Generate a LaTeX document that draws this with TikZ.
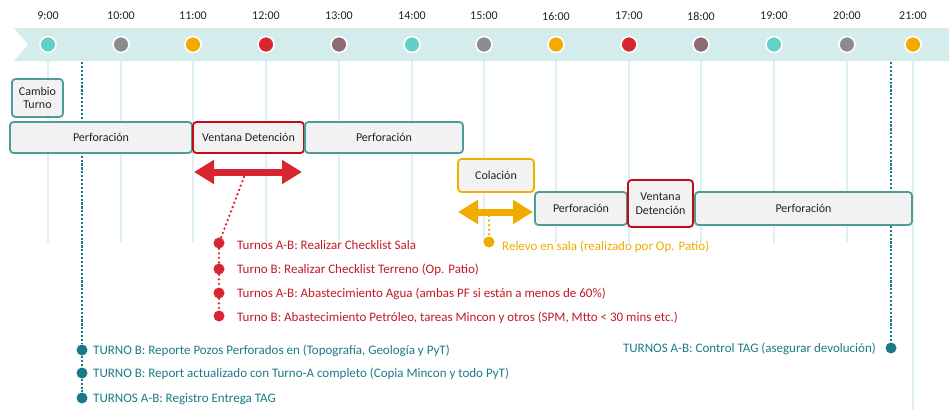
\documentclass[tikz,border=0pt]{standalone}
\usepackage{fontspec}
\setmainfont{Carlito}
\usetikzlibrary{arrows.meta}
\definecolor{cteal}{HTML}{62CFC9}
\definecolor{cgray}{HTML}{8C8C8C}
\definecolor{cyel}{HTML}{F0AA00}
\definecolor{cred}{HTML}{D7262F}
\definecolor{cmauve}{HTML}{8E6A72}
\definecolor{band}{HTML}{D4ECEB}
\definecolor{gridc}{HTML}{DDF1F3}
\definecolor{boxteal}{HTML}{4E9B98}
\definecolor{boxred}{HTML}{C40A14}
\definecolor{boxyel}{HTML}{F0B000}
\definecolor{boxfill}{HTML}{F2F2F2}
\definecolor{tteal}{HTML}{1B7A87}
\definecolor{tred}{HTML}{C01A26}
\definecolor{tyel}{HTML}{F0AA00}
\definecolor{txt}{HTML}{222222}
\tikzset{
  hour/.style={font=\fontsize{12}{14}\selectfont, text=txt, inner sep=0},
  hdot/.style={circle, draw=white, line width=1.6pt, minimum size=16pt, inner sep=0},
  gridline/.style={draw=gridc, line width=1.5pt},
  tbox/.style={draw=boxteal, rounded corners=3.5pt, line width=1.8pt, fill=boxfill, inner sep=0,
     font=\fontsize{12}{13.5}\selectfont, text=txt, align=center},
  rbox/.style={tbox, draw=boxred},
  ybox/.style={tbox, draw=boxyel},
  pin/.style={circle, minimum size=11pt, inner sep=0},
  lbl/.style={anchor=west, inner sep=0, font=\fontsize{13}{15}\selectfont},
  dotline/.style={line width=2.3pt, dash pattern=on 2.2pt off 1.7pt},
  rdotline/.style={line width=2.6pt, line cap=round, dash pattern=on 0pt off 4.6pt},
  bigarrow/.style={line width=7pt, {Triangle[length=20pt,width=23pt]}-{Triangle[length=20pt,width=23pt]}}
}
\begin{document}
\begin{tikzpicture}[x=1pt,y=-1pt]
\useasboundingbox (0,0) rectangle (950,410);
% grid lines
\foreach \x [count=\i] in {48,121,193,266,339,412,484,556,629,701,774,847} {
  \coordinate (t\i) at (\x,45);
  \coordinate (g\i) at (\x,243);
  \draw[gridline] (t\i) -- (g\i);
}
\coordinate (t13) at (913,45);
\coordinate (g13) at (913,410);
\draw[gridline] (t13) -- (g13);
% band
\fill[band] (14,28) -- (949,28) -- (949,61) -- (14,61) -- (28,44.5) -- cycle;
% hours and dots
\foreach \x/\t/\c [count=\i] in {48/9:00/cteal,121/10:00/cgray,193/11:00/cyel,266/12:00/cred,339/13:00/cmauve,412/14:00/cteal,484/15:00/cgray,556/16:00/cyel,629/17:00/cred,701/18:00/cmauve,774/19:00/cteal,847/20:00/cgray,913/21:00/cyel} {
  \node[hour] (h\i) at (\x,16) {\t};
  \node[hdot, fill=\c] (c\i) at (\x,44.5) {};
}
% teal dotted lines (behind boxes)
\coordinate (lt) at (82,62);
\coordinate (rt) at (891,62);
\node[pin, fill=tteal] (b1) at (82,350) {};
\node[pin, fill=tteal] (b2) at (82,373) {};
\node[pin, fill=tteal] (b3) at (82,398) {};
\node[pin, fill=tteal] (b4) at (891,348) {};
\draw[dotline, tteal] (lt) -- (b1);
\draw[dotline, tteal] (b1) -- (b2);
\draw[dotline, tteal] (b2) -- (b3);
\draw[dotline, tteal] (rt) -- (b4);
% boxes
\node[tbox, minimum width=51pt, minimum height=38pt] (cambio) at (37.5,98) {Cambio\\Turno};
\node[tbox, minimum width=182pt, minimum height=31pt] (p1) at (101,137.5) {Perforación};
\node[rbox, minimum width=111pt, minimum height=31pt] (v1) at (248.5,137.5) {Ventana Detención};
\node[tbox, minimum width=158pt, minimum height=31pt] (p2) at (384,137.5) {Perforación};
\node[ybox, minimum width=76pt, minimum height=33pt] (col) at (496,175.5) {Colación};
\node[tbox, minimum width=92pt, minimum height=33pt] (p3) at (581,208.5) {Perforación};
\node[rbox, minimum width=65pt, minimum height=47pt] (v2) at (660.5,203.5) {Ventana\\Detención};
\node[tbox, minimum width=217pt, minimum height=33pt] (p4) at (803.5,208.5) {Perforación};
% red arrow
\coordinate (raL) at (194,172);
\coordinate (raR) at (302,172);
\draw[bigarrow, cred] (raL) -- (raR);
% yellow arrow
\coordinate (yaL) at (458,212);
\coordinate (yaR) at (533,212);
\draw[bigarrow, cyel] (yaL) -- (yaR);
% red list
\coordinate (rs) at (244,177);
\node[pin, fill=cred] (r1) at (219,243) {};
\node[pin, fill=cred] (r2) at (219,269) {};
\node[pin, fill=cred] (r3) at (219,293) {};
\node[pin, fill=cred] (r4) at (219,316) {};
\draw[rdotline, cred] (rs) -- (r1);
\draw[rdotline, cred] (r1) -- (r2);
\draw[rdotline, cred] (r2) -- (r3);
\draw[rdotline, cred] (r3) -- (r4);
\node[lbl, text=tred] (rt1) at (237,245) {Turnos A-B: Realizar Checklist Sala};
\node[lbl, text=tred] (rt2) at (237,270) {Turno B: Realizar Checklist Terreno (Op. Patio)};
\node[lbl, text=tred] (rt3) at (237,294) {Turnos A-B: Abastecimiento Agua (ambas PF si están a menos de 60\%)};
\node[lbl, text=tred] (rt4) at (237,318) {Turno B: Abastecimiento Petróleo, tareas Mincon y otros (SPM, Mtto < 30 mins etc.)};
% yellow item
\coordinate (ys) at (489,216);
\node[pin, fill=cyel] (y1) at (489,242) {};
\draw[rdotline, cyel] (ys) -- (y1);
\node[lbl, text=tyel] (yt1) at (502,247) {Relevo en sala (realizado por Op. Patio)};
% teal texts
\node[lbl, text=tteal] (tt1) at (93,351) {TURNO B: Reporte Pozos Perforados en (Topografía, Geología y PyT)};
\node[lbl, text=tteal] (tt2) at (93,374) {TURNO B: Report actualizado con Turno-A completo (Copia Mincon y todo PyT)};
\node[lbl, text=tteal] (tt3) at (93,399) {TURNOS A-B: Registro Entrega TAG};
\node[lbl, anchor=east, text=tteal] (tt4) at (876,349) {TURNOS A-B: Control TAG (asegurar devolución)};
\end{tikzpicture}
\end{document}
